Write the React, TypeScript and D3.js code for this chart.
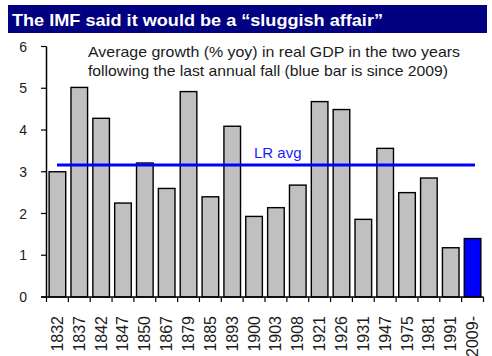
import React from "react";
import * as d3 from "d3";

const categories = ["1832","1837","1842","1847","1850","1867","1879","1885","1893","1900","1903","1908","1921","1926","1931","1947","1975","1981","1991","2009-"];
const values = [3.0,5.02,4.28,2.25,3.21,2.6,4.92,2.4,4.09,1.93,2.14,2.68,4.68,4.49,1.86,3.56,2.5,2.85,1.18,1.4];
const lrAvg = 3.16;
const yTicks = [0,1,2,3,4,5,6];
const title = "The IMF said it would be a \u201csluggish affair\u201d";
const noteLines = [
  "Average growth (% yoy) in real GDP in the two years",
  "following the last annual fall (blue bar is since 2009)",
];
const lrLabel = "LR avg";
const highlight = "2009-";

export default function App() {
  const W = 492, H = 356;
  const x0 = 46.5, x1 = 483.5, yTop = 46.5, yBot = 297;
  const x = d3.scaleBand<string>().domain(categories).range([x0, x1]).paddingInner(0.24).paddingOuter(0.12);
  const y = d3.scaleLinear().domain([0, 6]).range([yBot, yTop]);
  const step = x.step();
  const font = "'Liberation Sans', Arial, sans-serif";
  return (
    <svg width={W} height={H} style={{ position: "absolute", left: 0, top: 0 }} fontFamily={font}>
      <rect x={0} y={0} width={W} height={H} fill="#fff" />
      <rect x={8} y={5} width={479} height={28} fill="#000080" />
      <text x={12} y={26} fill="#fff" fontWeight="bold" fontSize={17} textLength={371} lengthAdjust="spacingAndGlyphs">{title}</text>
      {noteLines.map((t, i) => (
        <text key={i} x={88} y={57 + i * 19} fontSize={15} fill="#1a1a1a" textLength={i === 0 ? 372 : 360} lengthAdjust="spacingAndGlyphs">{t}</text>
      ))}
      {categories.map((c, i) => (
        <rect key={c} x={x(c)} y={y(values[i])} width={x.bandwidth()} height={y(0) - y(values[i])}
          fill={c === highlight ? "#0000ff" : "#c0c0c0"} stroke="#000" strokeWidth={1.4} />
      ))}
      <line x1={x0} x2={x0} y1={yTop} y2={yBot} stroke="#000" strokeWidth={1.5} />
      <line x1={41} x2={x1} y1={yBot} y2={yBot} stroke="#000" strokeWidth={1.5} />
      {yTicks.map(t => (
        <g key={t}>
          <line x1={41} x2={x0} y1={y(t)} y2={y(t)} stroke="#000" strokeWidth={1.2} />
          <text x={27} y={y(t) + 5} fontSize={14} textAnchor="end" fill="#1a1a1a">{t}</text>
        </g>
      ))}
      {categories.map((c, i) => (
        <line key={"t" + c} x1={x0 + i * step} x2={x0 + i * step} y1={yBot} y2={yBot + 5} stroke="#000" strokeWidth={1.2} />
      ))}
      <line x1={x1} x2={x1} y1={yBot} y2={yBot + 5} stroke="#000" strokeWidth={1.2} />
      {categories.map(c => (
        <text key={"l" + c} transform={`translate(${(x(c) as number) + x.bandwidth() / 2 + 5.5},${316}) rotate(-90)`}
          fontSize={16} textAnchor="end" fill="#1a1a1a">{c}</text>
      ))}
      <line x1={57} x2={475} y1={y(lrAvg)} y2={y(lrAvg)} stroke="#0000ff" strokeWidth={3} />
      <text x={254} y={158} fontSize={15} fill="#2020ff">{lrLabel}</text>
    </svg>
  );
}
